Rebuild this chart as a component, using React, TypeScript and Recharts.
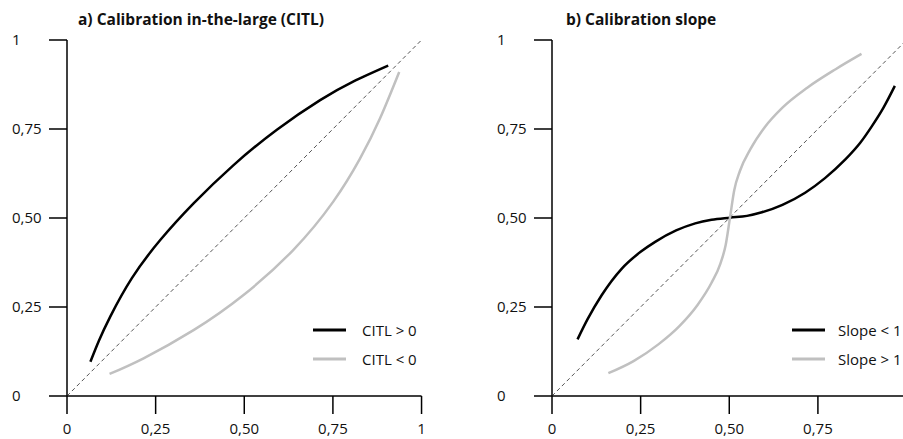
import React from "react";
import { LineChart, Line, XAxis, YAxis, ReferenceLine, Legend } from "recharts";

// axis ticks and their printed labels (decimal comma)
const axisTicks = [0, 0.25, 0.5, 0.75, 1];
const tickLabels = ["0", "0,25", "0,50", "0,75", "1"];
// the right panel is cut by the picture edge before x = 1
const clippedXTicks = [0, 0.25, 0.5, 0.75];

// perfect calibration reference
const identity = [
  { x: 0, y: 0 },
  { x: 1, y: 1 },
];

// panel a) calibration in-the-large
const citlAbove = [
  { x: 0.066, y: 0.096 },
  { x: 0.09, y: 0.155 },
  { x: 0.122, y: 0.223 },
  { x: 0.183, y: 0.331 },
  { x: 0.263, y: 0.438 },
  { x: 0.357, y: 0.541 },
  { x: 0.469, y: 0.648 },
  { x: 0.592, y: 0.748 },
  { x: 0.714, y: 0.831 },
  { x: 0.807, y: 0.883 },
  { x: 0.906, y: 0.928 },
];
const citlBelow = [
  { x: 0.12, y: 0.062 },
  { x: 0.216, y: 0.106 },
  { x: 0.357, y: 0.185 },
  { x: 0.497, y: 0.283 },
  { x: 0.638, y: 0.41 },
  { x: 0.751, y: 0.546 },
  { x: 0.826, y: 0.666 },
  { x: 0.883, y: 0.78 },
  { x: 0.937, y: 0.91 },
];

// panel b) calibration slope
const slopeBelowOne = [
  { x: 0.072, y: 0.159 },
  { x: 0.1, y: 0.215 },
  { x: 0.14, y: 0.283 },
  { x: 0.197, y: 0.358 },
  { x: 0.25, y: 0.405 },
  { x: 0.291, y: 0.433 },
  { x: 0.35, y: 0.465 },
  { x: 0.404, y: 0.485 },
  { x: 0.45, y: 0.495 },
  { x: 0.502, y: 0.501 },
  { x: 0.55, y: 0.506 },
  { x: 0.592, y: 0.516 },
  { x: 0.65, y: 0.537 },
  { x: 0.714, y: 0.571 },
  { x: 0.77, y: 0.612 },
  { x: 0.826, y: 0.663 },
  { x: 0.87, y: 0.712 },
  { x: 0.901, y: 0.756 },
  { x: 0.935, y: 0.81 },
  { x: 0.967, y: 0.871 },
];
const slopeAboveOne = [
  { x: 0.159, y: 0.064 },
  { x: 0.23, y: 0.098 },
  { x: 0.3, y: 0.145 },
  { x: 0.36, y: 0.197 },
  { x: 0.41, y: 0.255 },
  { x: 0.45, y: 0.318 },
  { x: 0.475, y: 0.372 },
  { x: 0.49, y: 0.425 },
  { x: 0.502, y: 0.501 },
  { x: 0.514, y: 0.578 },
  { x: 0.53, y: 0.632 },
  { x: 0.56, y: 0.694 },
  { x: 0.6, y: 0.755 },
  { x: 0.65, y: 0.81 },
  { x: 0.72, y: 0.866 },
  { x: 0.8, y: 0.918 },
  { x: 0.873, y: 0.961 },
];

const FONT = "'Open Sans', sans-serif";
const BLACK = "#000000";
const GREY = "#c0c0c0";

const XTick = (props: any) => {
  const { x, y, payload } = props;
  return (
    <text x={x} y={y + 18} textAnchor="middle" fontFamily={FONT} fontSize={15} fill="#111">
      {tickLabels[axisTicks.indexOf(payload.value)]}
    </text>
  );
};

const YTick = (props: any) => {
  const { x, y, payload } = props;
  return (
    <text x={x - 35} y={y + 5} textAnchor="start" fontFamily={FONT} fontSize={15} fill="#111">
      {tickLabels[axisTicks.indexOf(payload.value)]}
    </text>
  );
};

type Series = { name: string; data: { x: number; y: number }[]; color: string };

const legendContent = (series: Series[], gap: number) => () => (
  <div>
    {series.map((s) => (
      <div key={s.name} style={{ display: "flex", alignItems: "center", height: 29 }}>
        <svg width={33} height={4}>
          <line x1={0} y1={2} x2={33} y2={2} stroke={s.color} strokeWidth={3} />
        </svg>
        <span style={{ marginLeft: gap, font: `15px ${FONT}`, color: "#111", whiteSpace: "nowrap" }}>
          {s.name}
        </span>
      </div>
    ))}
  </div>
);

function Panel({
  left,
  title,
  titleX,
  series,
  curve,
  xTicks,
  legendX,
  legendGap,
}: {
  left: number;
  title: string;
  titleX: number;
  series: Series[];
  curve: "natural" | "monotone";
  xTicks: number[];
  legendX: number;
  legendGap: number;
}) {
  return (
    <div style={{ position: "absolute", left, top: 0, width: 485, height: 439 }}>
      <div
        style={{
          position: "absolute",
          left: titleX,
          top: 11,
          font: `bold 15.5px ${FONT}`,
          lineHeight: "16px",
          color: "#111",
          whiteSpace: "nowrap",
        }}
      >
        {title}
      </div>
      <LineChart width={485} height={439} margin={{ top: 40, right: 28, bottom: 0, left: 0 }}>
        <XAxis
          type="number"
          dataKey="x"
          domain={[0, 1.1]}
          ticks={xTicks}
          height={43}
          axisLine={false}
          tickSize={18}
          tickLine={{ stroke: BLACK, strokeWidth: 1.5 }}
          tick={<XTick />}
        />
        <YAxis
          type="number"
          dataKey="y"
          domain={[0, 1]}
          ticks={axisTicks}
          width={67}
          axisLine={{ stroke: BLACK, strokeWidth: 1.5 }}
          tickSize={18}
          tickLine={{ stroke: BLACK, strokeWidth: 1.5 }}
          tick={<YTick />}
        />
        <ReferenceLine
          segment={[
            { x: 0, y: 0 },
            { x: 1, y: 0 },
          ]}
          stroke={BLACK}
          strokeWidth={1.5}
          ifOverflow="visible"
        />
        <Line
          data={identity}
          dataKey="y"
          type="linear"
          stroke="#555"
          strokeWidth={1}
          strokeDasharray="4 3"
          dot={false}
          legendType="none"
          isAnimationActive={false}
        />
        {series.map((s) => (
          <Line
            key={s.name}
            name={s.name}
            data={s.data}
            dataKey="y"
            type={curve}
            stroke={s.color}
            strokeWidth={2.5}
            dot={false}
            isAnimationActive={false}
          />
        ))}
        <Legend
          layout="horizontal"
          verticalAlign="middle"
          content={legendContent(series, legendGap)}
          wrapperStyle={{ left: legendX, top: 315, width: 200 }}
        />
      </LineChart>
    </div>
  );
}

export default function App() {
  return (
    <div
      style={{
        position: "absolute",
        left: 0,
        top: 0,
        width: 903,
        height: 439,
        overflow: "hidden",
        background: "#fff",
      }}
    >
      <Panel
        left={0}
        title="a) Calibration in-the-large (CITL)"
        titleX={78}
        series={[
          { name: "CITL > 0", data: citlAbove, color: BLACK },
          { name: "CITL < 0", data: citlBelow, color: GREY },
        ]}
        curve="natural"
        xTicks={axisTicks}
        legendX={313}
        legendGap={16}
      />
      <Panel
        left={485}
        title="b) Calibration slope"
        titleX={81}
        series={[
          { name: "Slope < 1", data: slopeBelowOne, color: BLACK },
          { name: "Slope > 1", data: slopeAboveOne, color: GREY },
        ]}
        curve="monotone"
        xTicks={clippedXTicks}
        legendX={307}
        legendGap={13}
      />
    </div>
  );
}
